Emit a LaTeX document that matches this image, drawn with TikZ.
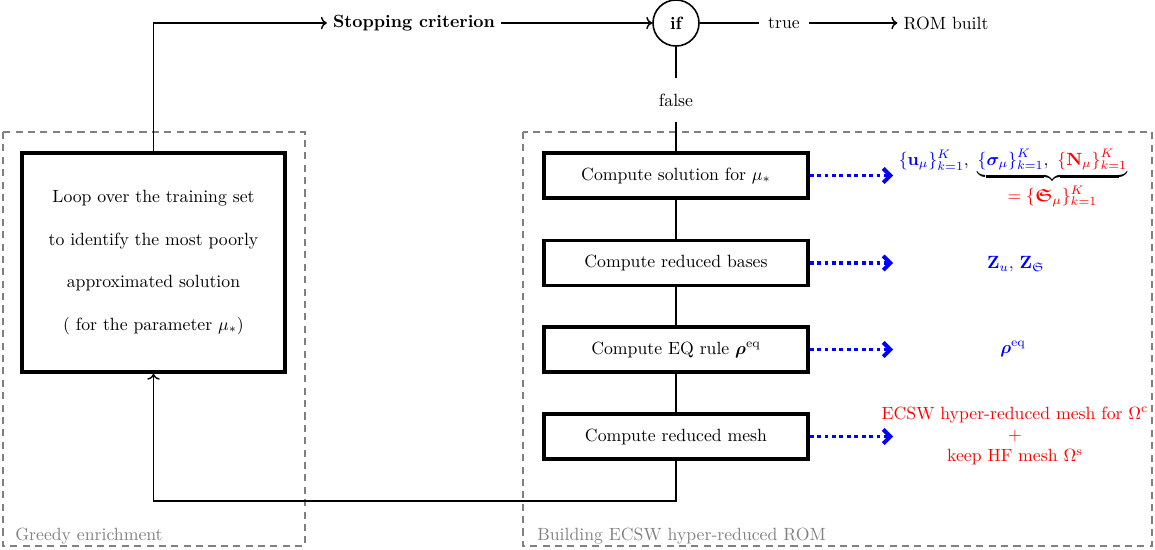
\documentclass[tikz,border=0pt]{standalone}
\usepackage{amsmath,amssymb,bm}
\usetikzlibrary{arrows.meta,positioning}
\begin{document}
\begin{tikzpicture}[x=0.565pt,y=-0.565pt,
  stepbox/.style={draw,line width=2pt,minimum width=149pt,minimum height=25.4pt,inner sep=2pt},
  conn/.style={line width=0.8pt},
  outarrow/.style={blue,line width=2.2pt,dotted,-{Straight Barb[length=4pt,width=8pt]}},
  group/.style={draw=gray,line width=0.9pt,dash pattern=on 4pt off 3pt},
  grouplabel/.style={text=gray,anchor=base west,inner sep=0pt}]
\useasboundingbox (0,0) rectangle (1155,549);
% group frames
\draw[group] (3,132) rectangle (305,546);
\draw[group] (523,132) rectangle (1152,546);
\node[grouplabel] (gl1) at (15,540) {Greedy enrichment};
\node[grouplabel] (gl2) at (537,540) {Building ECSW hyper-reduced ROM};
% loop box
\node[draw,line width=2pt,minimum width=148.6pt,minimum height=123.7pt,align=center] (loop) at (153.5,262.5)
  {Loop over the training set\\[12pt] to identify the most poorly\\[12pt] approximated solution\\[12pt] ( for the parameter $\mu_*$)};
% top row
\node[font=\bfseries] (stop) at (414,23) {Stopping criterion};
\node[draw,circle,line width=0.9pt,minimum size=26pt,inner sep=0pt,font=\bfseries] (if) at (676,23) {if};
\node[inner sep=5pt] (true) at (784,23) {true};
\node (rom) at (946,23) {ROM built};
\node[minimum height=25pt,inner sep=0pt] (false) at (676,100) {false};
% steps
\node[stepbox] (b1) at (676,175.5) {Compute solution for $\mu_*$};
\node[stepbox] (b2) at (676,263) {Compute reduced bases};
\node[stepbox] (b3) at (676,349.5) {Compute EQ rule $\boldsymbol{\rho}^{\mathrm{eq}}$};
\node[stepbox] (b4) at (676,436.5) {Compute reduced mesh};
% outputs
\node[anchor=base] (o1) at (1013,165) {${\color{blue}\{\mathbf{u}_\mu\}_{k=1}^K},\ \underbrace{{\color{blue}\{\boldsymbol{\sigma}_\mu\}_{k=1}^K},\ {\color{red}\{\mathbf{N}_\mu\}_{k=1}^K}}_{\displaystyle\color{red}=\{\boldsymbol{\mathfrak{S}}_\mu\}_{k=1}^K}$};
\node[text=blue] (o2) at (1016,264) {$\mathbf{Z}_u,\, \mathbf{Z}_{\mathfrak{S}}$};
\node[text=blue] (o3) at (1013,349) {$\boldsymbol{\rho}^{\mathrm{eq}}$};
\node[text=red,align=center] (o4) at (1015,436) {ECSW hyper-reduced mesh for $\Omega^{\mathrm{c}}$\\ $+$\\ keep HF mesh $\Omega^{\mathrm{s}}$};
\coordinate (e1) at (893,175.5);
\coordinate (e2) at (893,263);
\coordinate (e3) at (893,349.5);
\coordinate (e4) at (893,436.5);
\coordinate (bot) at (676,501);
% connectors
\draw[conn,->] (loop.north) |- (stop.west);
\draw[conn,->] (stop.east) -- (if.west);
\draw[conn] (if.east) -- (true.west);
\draw[conn,->] (true.east) -- (rom.west);
\draw[conn] (if.south) -- (false.north);
\draw[conn] (false.south) -- (b1.north);
\draw[conn] (b1.south) -- (b2.north);
\draw[conn] (b2.south) -- (b3.north);
\draw[conn] (b3.south) -- (b4.north);
\draw[conn,->] (b4.south) -- (bot) -| (loop.south);
\draw[outarrow] (b1.east) -- (e1);
\draw[outarrow] (b2.east) -- (e2);
\draw[outarrow] (b3.east) -- (e3);
\draw[outarrow] (b4.east) -- (e4);
\end{tikzpicture}
\end{document}
